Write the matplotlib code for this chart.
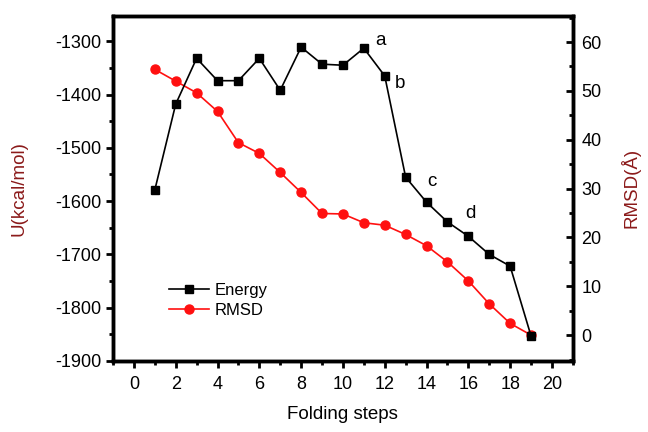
import matplotlib
matplotlib.use("Agg")
import matplotlib.pyplot as plt
from matplotlib.ticker import MultipleLocator

plt.rcParams['font.family'] = ['Liberation Sans', 'DejaVu Sans']
plt.rcParams['axes.unicode_minus'] = False

# values
steps = list(range(1, 20))
energy = [-1579, -1418, -1332, -1374, -1374, -1332, -1392, -1311, -1343, -1345,
          -1313, -1365, -1555, -1602, -1639, -1666, -1700, -1722, -1853]
rmsd = [54.4, 52.0, 49.6, 45.8, 39.4, 37.2, 33.3, 29.2, 24.9, 24.8,
        23.0, 22.5, 20.6, 18.3, 15.0, 11.1, 6.4, 2.4, 0.0]
labels = ['a', 'b', 'c', 'd']
label_x = [11.8, 12.75, 14.25, 16.1]
label_y = [-1298, -1380, -1563, -1623]

fig = plt.figure(figsize=(6.48, 4.32), dpi=100)
ax = fig.add_axes([0.1744, 0.1644, 0.7096, 0.7993])
ax2 = ax.twinx()

l1, = ax.plot(steps, energy, color='black', lw=1.2, marker='s', ms=6, label='Energy', zorder=3)
l2, = ax2.plot(steps, rmsd, color='#ff1010', lw=1.2, marker='o', ms=6.5, label='RMSD')

ax.set_zorder(ax2.get_zorder() + 1)
ax.patch.set_visible(False)

ax.set_xlim(-1, 21)
ax.set_ylim(-1900, -1252)
ax2.set_ylim(-5.3, 65.4)

ax.xaxis.set_major_locator(MultipleLocator(2))
ax.xaxis.set_minor_locator(MultipleLocator(1))
ax.yaxis.set_major_locator(MultipleLocator(100))
ax.yaxis.set_minor_locator(MultipleLocator(50))
ax2.yaxis.set_major_locator(MultipleLocator(10))
ax2.yaxis.set_minor_locator(MultipleLocator(5))

ax.tick_params(axis='both', which='major', direction='out', length=5, width=2, labelsize=13)
ax.tick_params(axis='x', which='major', pad=6)
ax.tick_params(axis='both', which='minor', direction='out', length=3, width=2)
ax2.tick_params(axis='y', which='major', direction='in', length=5, width=2, labelsize=13, pad=6)
ax2.tick_params(axis='y', which='minor', direction='in', length=3, width=2)

for a in (ax, ax2):
    for s in a.spines.values():
        s.set_linewidth(2.5)

for t, xx, yy in zip(labels, label_x, label_y):
    ax.text(xx, yy, t, fontsize=13.5, ha='center', va='center')

ax.set_xlabel('Folding steps', fontsize=13.5, labelpad=9)
ax.set_ylabel('U(kcal/mol)', fontsize=13.5, color='#8b1a1a', labelpad=20)
ax2.set_ylabel('RMSD(Å)', fontsize=13.5, color='#8b1a1a', labelpad=14)

ax.legend([l1, l2], ['Energy', 'RMSD'], loc='upper left', bbox_to_anchor=(0.09, 0.27),
          frameon=False, fontsize=12, handlelength=2.4, handletextpad=0.3, labelspacing=0.3)

fig.savefig('out.png', dpi=100)
